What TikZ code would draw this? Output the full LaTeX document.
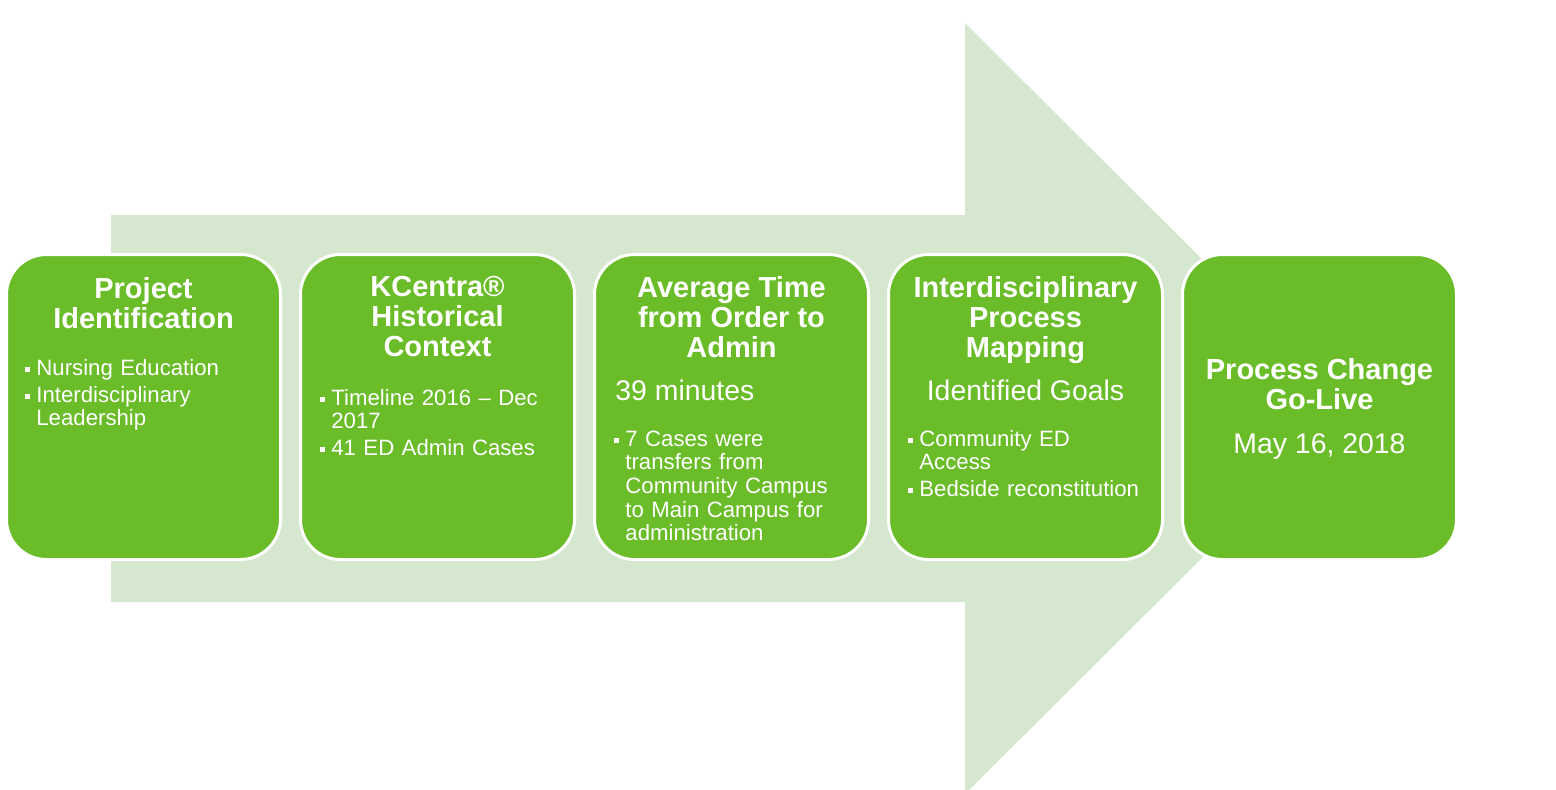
\documentclass[tikz,border=0pt]{standalone}
\usepackage{fontspec}
\setmainfont{Liberation Sans}
\usetikzlibrary{calc,positioning}
\definecolor{leaf}{RGB}{106,189,41}
\definecolor{pale}{RGB}{213,232,207}
\newcommand{\bul}{\parskip=1.6pt\par\noindent\makebox[5.5pt][l]{\rule[1.6pt]{2.5pt}{2.5pt}}}
\newcommand{\nl}{\newline\hspace*{5.5pt}}

\begin{document}
\begin{tikzpicture}[x=0.5pt,y=0.5pt,
    stage/.style={draw=white,line width=1.5pt,fill=leaf,rounded corners=20pt,
      minimum width=137pt,minimum height=152.5pt,inner sep=0pt},
    head/.style={text=white,font=\bfseries\fontsize{14.5}{15}\selectfont,align=center,inner sep=0pt,anchor=north},
    sub/.style={text=white,font=\fontsize{14.2}{16}\selectfont,inner sep=0pt},
    pts/.style={text=white,font=\fontsize{11.1}{11.8}\selectfont,text width=118pt,align=left,inner sep=0pt,anchor=north west},
    node distance=8.5pt]
  \useasboundingbox (0,0) rectangle (1556,-789);
  \clip (0,0) rectangle (1556,-789);

  % the pale arrow behind the steps
  \fill[pale] (111,-215) -- (965,-215) -- (965,-23) -- (1352,-408.5)
    -- (965,-794) -- (965,-602) -- (111,-602) -- cycle;

  \node[stage] (b1) at (143.5,-407) {};
  \node[stage,right=of b1] (b2) {};
  \node[stage,right=of b2] (b3) {};
  \node[stage,right=of b3] (b4) {};
  \node[stage,right=of b4] (b5) {};

  \node[head] (t1) at ($(b1.north)+(0,-24)$) {Project\\Identification};
  \node[pts] (l1) at ($(b1.north west)+(20,-95)$) {\bul Nursing Education\bul Interdisciplinary\nl Leadership};

  \node[head] (t2) at ($(b2.north)+(0,-23)$) {KCentra®\\Historical\\Context};
  \node[pts] (l2) at ($(b2.north west)+(21,-125)$) {\bul Timeline 2016 -- Dec\nl 2017\bul 41 ED Admin Cases};

  \node[head] (t3) at ($(b3.north)+(0,-23)$) {Average Time\\from Order to\\Admin};
  \node[sub,anchor=north west] (s3) at ($(b3.north west)+(22,-127)$) {39 minutes};
  \node[pts] (l3) at ($(b3.north west)+(21,-166)$) {\bul 7 Cases were\nl transfers from\nl Community Campus\nl to Main Campus for\nl administration};

  \node[head] (t4) at ($(b4.north)+(0,-23)$) {Interdisciplinary\\Process\\Mapping};
  \node[sub,anchor=north] (s4) at ($(b4.north)+(0,-127)$) {Identified Goals};
  \node[pts] (l4) at ($(b4.north west)+(21,-166)$) {\bul Community ED\nl Access\bul Bedside reconstitution};

  \node[head] (t5) at ($(b5.north)+(0,-105)$) {Process Change\\Go-Live};
  \node[sub,anchor=north] (d5) at ($(b5.north)+(0,-180)$) {May 16, 2018};
\end{tikzpicture}
\end{document}
